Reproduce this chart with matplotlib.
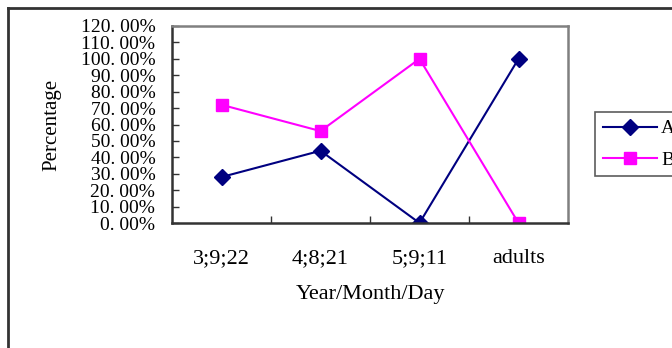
import matplotlib
matplotlib.use("Agg")
import matplotlib.pyplot as plt
from matplotlib.lines import Line2D

categories = ["3;9;22", "4;8;21", "5;9;11", "adults"]
series_a = [28.0, 44.0, 0.0, 100.0]
series_b = [72.0, 56.0, 100.0, 0.0]
yticks = [0, 10, 20, 30, 40, 50, 60, 70, 80, 90, 100, 110, 120]
ytick_labels = ["%d. 00%%" % v for v in yticks]

plt.rcParams['font.family'] = ['Liberation Serif', 'DejaVu Serif']

W, H = 672, 348
fig = plt.figure(figsize=(W / 100, H / 100), dpi=100)
ax = fig.add_axes([172 / W, 1 - 223 / H, (568 - 172) / W, (223 - 26) / H])

x = list(range(len(categories)))
ax.plot(x, series_a, color='#000080', lw=1.5, marker='D', ms=8.5,
        markerfacecolor='#000080', markeredgecolor='#000080', label='A')
ax.plot(x, series_b, color='#FF00FF', lw=1.5, marker='s', ms=8.5,
        markerfacecolor='#FF00FF', markeredgecolor='#FF00FF', label='B')

ax.set_xlim(-0.5, len(categories) - 0.5)
ax.set_ylim(0, 120)
ax.set_yticks(yticks)
ax.set_yticklabels(ytick_labels, fontsize=14)
ax.set_xticks([i + 0.5 for i in range(len(categories) - 1)])
ax.set_xticklabels([])
ax.set_xticks(x, minor=True)
ax.set_xticklabels(categories, minor=True, fontsize=16)
ax.tick_params(axis='x', which='minor', length=0, pad=19)
ax.tick_params(axis='x', which='major', direction='in', length=5, width=1, color='#333333')
ax.tick_params(axis='y', direction='in', length=5, width=1, color='#333333', pad=12)

for s in ['left', 'bottom']:
    ax.spines[s].set_color('#333333')
    ax.spines[s].set_linewidth(1.8)
for s in ['top', 'right']:
    ax.spines[s].set_color('#808080')
    ax.spines[s].set_linewidth(1.8)

ax.set_xlabel('Year/Month/Day', fontsize=16, labelpad=12)
ax.set_ylabel('Percentage', fontsize=15, labelpad=14)

leg = fig.legend(loc='upper left', bbox_to_anchor=(595 / W, 1 - 112 / H),
                 bbox_transform=fig.transFigure, fontsize=14, frameon=True,
                 fancybox=False, edgecolor='#333333', handlelength=2.8,
                 handletextpad=0.2, labelspacing=0.7, borderpad=0.4,
                 borderaxespad=0)
leg.get_frame().set_linewidth(1.2)

fig.add_artist(Line2D([8 / W, 8 / W], [1 - 8 / H, 0], transform=fig.transFigure,
                      color='#333333', lw=2))
fig.add_artist(Line2D([8 / W, 1], [1 - 8 / H, 1 - 8 / H], transform=fig.transFigure,
                      color='#333333', lw=2))

fig.savefig('out.png', dpi=100)
